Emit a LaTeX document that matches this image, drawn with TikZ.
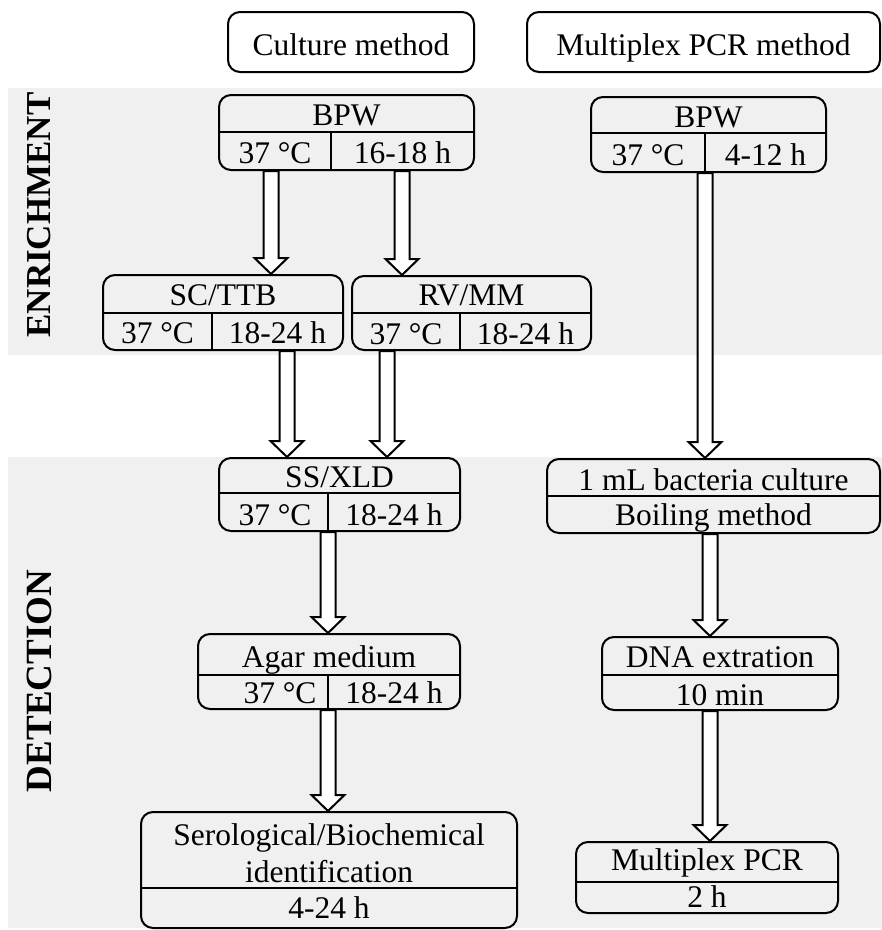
\documentclass[tikz,border=0pt]{standalone}
\usepackage{fontspec}
\setmainfont{Liberation Serif}
\usetikzlibrary{calc}
\definecolor{bandgray}{RGB}{240,240,240}
\tikzset{
  box/.style={draw=black, line width=2pt, rounded corners=12pt, inner sep=0pt},
  headbox/.style={box, fill=white},
  divline/.style={draw=black, line width=2pt},
  txt/.style={inner sep=0pt, anchor=base, font=\fontsize{31.5}{36}\selectfont},
  sidelabel/.style={inner sep=0pt, rotate=90, font=\bfseries\fontsize{36}{40}\selectfont},
  harrow/.style={draw=black, fill=white, line width=2pt, line join=miter},
}
\newcommand\flowarrow[2]{%
  \draw[harrow] let \p1=(#1), \p2=(#2) in
  (\x1-7.5pt,\y1) -- (\x1-7.5pt,\y2+16pt) -- (\x1-16.5pt,\y2+16pt) -- (\x1,\y2)
  -- (\x1+16.5pt,\y2+16pt) -- (\x1+7.5pt,\y2+16pt) -- (\x1+7.5pt,\y1) -- cycle;}
\begin{document}
\begin{tikzpicture}[x=1pt,y=-1pt]
\useasboundingbox (0,0) rectangle (882,930);
\fill[white] (0,0) rectangle (882,930);
% bands
\fill[bandgray] (8,88) rectangle (882,355);
\fill[bandgray] (8,457) rectangle (882,928);
\node[sidelabel, font=\bfseries\fontsize{35}{40}\selectfont] (enr) at (39,215) {ENRICHMENT};
\node[sidelabel, font=\bfseries\fontsize{37}{40}\selectfont] (det) at (39,681) {DETECTION};
% headers
\node[headbox, minimum width=246pt, minimum height=60pt] (hcult) at (351,42) {};
\node[txt] (hcultt) at (351,55) {Culture method};
\node[headbox, minimum width=353pt, minimum height=60pt] (hpcr) at (703.5,42) {};
\node[txt] (hpcrt) at (703.5,55) {Multiplex PCR method};
% boxes
\node[box, minimum width=255pt, minimum height=75pt] (bpwA) at (346.5,132.5) {};
\draw[divline] (bpwA.west |- 0,132) -- (bpwA.east |- 0,132);
\draw[divline] (bpwA.south -| 331,0) -- (331,132);
\node[txt] (bpwAt) at (346.5,125) {BPW};
\node[txt] (bpwAl) at (275,163) {37 °C};
\node[txt] (bpwAr) at (402.5,163) {16-18 h};

\node[box, minimum width=235pt, minimum height=75pt] (bpwB) at (708.5,134.5) {};
\draw[divline] (bpwB.west |- 0,133) -- (bpwB.east |- 0,133);
\draw[divline] (bpwB.south -| 705,0) -- (705,133);
\node[txt] (bpwBt) at (708.5,127) {BPW};
\node[txt] (bpwBl) at (648,165) {37 °C};
\node[txt] (bpwBr) at (765.5,165) {4-12 h};

\node[box, minimum width=240pt, minimum height=75pt] (sctt) at (223,312.5) {};
\draw[divline] (sctt.west |- 0,313) -- (sctt.east |- 0,313);
\draw[divline] (sctt.south -| 212,0) -- (212,313);
\node[txt] (scttt) at (223,305) {SC/TTB};
\node[txt] (scttl) at (157.5,343) {37 °C};
\node[txt] (scttr) at (277.5,343) {18-24 h};

\node[box, minimum width=239pt, minimum height=74pt] (rvmm) at (471.5,313) {};
\draw[divline] (rvmm.west |- 0,313) -- (rvmm.east |- 0,313);
\draw[divline] (rvmm.south -| 460,0) -- (460,313);
\node[txt] (rvmmt) at (471.5,305) {RV/MM};
\node[txt] (rvmml) at (406,344) {37 °C};
\node[txt] (rvmmr) at (525.5,344) {18-24 h};

\node[box, minimum width=241pt, minimum height=73pt] (ssxld) at (339.5,494.5) {};
\draw[divline] (ssxld.west |- 0,493) -- (ssxld.east |- 0,493);
\draw[divline] (ssxld.south -| 328,0) -- (328,493);
\node[txt] (ssxldt) at (339.5,487) {SS/XLD};
\node[txt] (ssxldl) at (275,525) {37 °C};
\node[txt] (ssxldr) at (394,525) {18-24 h};

\node[box, minimum width=333pt, minimum height=74pt] (boil) at (713.5,496) {};
\draw[divline] (boil.west |- 0,496) -- (boil.east |- 0,496);
\node[txt] (boilt) at (713.5,490) {1 mL bacteria culture};
\node[txt] (boilb) at (713.5,525) {Boiling method};

\node[box, minimum width=262pt, minimum height=75pt] (agar) at (329,671.5) {};
\draw[divline] (agar.west |- 0,675) -- (agar.east |- 0,675);
\draw[divline] (agar.south -| 328,0) -- (328,675);
\node[txt] (agart) at (329,667) {Agar medium};
\node[txt] (agarl) at (280,703) {37 °C};
\node[txt] (agarr) at (394,703) {18-24 h};

\node[box, minimum width=236pt, minimum height=73pt] (dna) at (720,673.5) {};
\draw[divline] (dna.west |- 0,675) -- (dna.east |- 0,675);
\node[txt] (dnat) at (720,667) {DNA extration};
\node[txt] (dnab) at (720,705) {10 min};

\node[box, minimum width=376pt, minimum height=116pt] (sero) at (329,870) {};
\draw[divline] (sero.west |- 0,888) -- (sero.east |- 0,888);
\node[txt] (sero1) at (329,845) {Serological/Biochemical};
\node[txt] (sero2) at (329,882) {identification};
\node[txt] (serob) at (329,918) {4-24 h};

\node[box, minimum width=262pt, minimum height=71pt] (mpcr) at (707,877.5) {};
\draw[divline] (mpcr.west |- 0,882) -- (mpcr.east |- 0,882);
\node[txt] (mpcrt) at (707,870) {Multiplex PCR};
\node[txt] (mpcrb) at (707,907) {2 h};

% arrows
\flowarrow{bpwA.south -| 271,0}{sctt.north -| 271,0}
\flowarrow{bpwA.south -| 402,0}{rvmm.north -| 402,0}
\flowarrow{bpwB.south -| 705,0}{boil.north -| 705,0}
\flowarrow{sctt.south -| 287,0}{ssxld.north -| 287,0}
\flowarrow{rvmm.south -| 387,0}{ssxld.north -| 387,0}
\flowarrow{ssxld.south -| 328,0}{agar.north -| 328,0}
\flowarrow{agar.south -| 328,0}{sero.north -| 328,0}
\flowarrow{boil.south -| 710,0}{dna.north -| 710,0}
\flowarrow{dna.south -| 710,0}{mpcr.north -| 710,0}
\end{tikzpicture}
\end{document}
